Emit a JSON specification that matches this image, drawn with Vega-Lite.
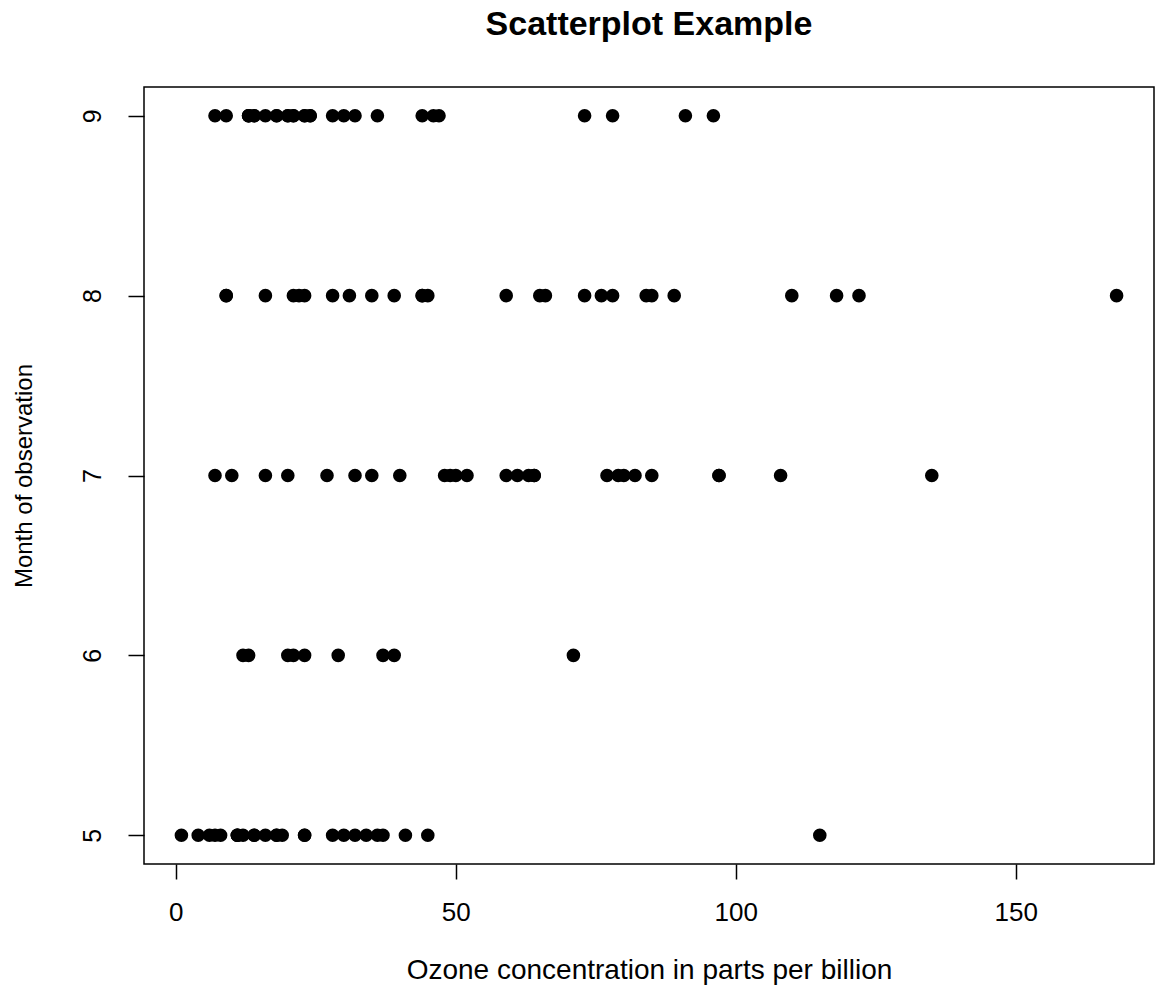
{
  "$schema": "https://vega.github.io/schema/vega-lite/v6.json",
  "autosize": {"type": "none"},
  "padding": {"left": 144, "top": 87, "right": 3, "bottom": 121},
  "width": 1010,
  "height": 777,
  "background": "white",
  "config": {
    "font": "Liberation Sans",
    "view": {"stroke": "#000000", "strokeWidth": 1.5}
  },
  "title": {
    "text": "Scatterplot Example",
    "font": "Liberation Sans",
    "fontSize": 34,
    "fontWeight": "bold",
    "color": "#000000",
    "anchor": "middle",
    "baseline": "alphabetic",
    "offset": 18
  },
  "data": {
    "values": [
      {"Ozone": 41, "Month": 5}, {"Ozone": 36, "Month": 5}, {"Ozone": 12, "Month": 5}, {"Ozone": 18, "Month": 5},
      {"Ozone": 28, "Month": 5}, {"Ozone": 23, "Month": 5}, {"Ozone": 19, "Month": 5}, {"Ozone": 8, "Month": 5},
      {"Ozone": 7, "Month": 5}, {"Ozone": 16, "Month": 5}, {"Ozone": 11, "Month": 5}, {"Ozone": 14, "Month": 5},
      {"Ozone": 18, "Month": 5}, {"Ozone": 14, "Month": 5}, {"Ozone": 34, "Month": 5}, {"Ozone": 6, "Month": 5},
      {"Ozone": 30, "Month": 5}, {"Ozone": 11, "Month": 5}, {"Ozone": 1, "Month": 5}, {"Ozone": 11, "Month": 5},
      {"Ozone": 4, "Month": 5}, {"Ozone": 32, "Month": 5}, {"Ozone": 23, "Month": 5}, {"Ozone": 45, "Month": 5},
      {"Ozone": 115, "Month": 5}, {"Ozone": 37, "Month": 5},
      {"Ozone": 29, "Month": 6}, {"Ozone": 71, "Month": 6}, {"Ozone": 39, "Month": 6}, {"Ozone": 23, "Month": 6},
      {"Ozone": 21, "Month": 6}, {"Ozone": 37, "Month": 6}, {"Ozone": 20, "Month": 6}, {"Ozone": 12, "Month": 6},
      {"Ozone": 13, "Month": 6},
      {"Ozone": 135, "Month": 7}, {"Ozone": 49, "Month": 7}, {"Ozone": 32, "Month": 7}, {"Ozone": 64, "Month": 7},
      {"Ozone": 40, "Month": 7}, {"Ozone": 77, "Month": 7}, {"Ozone": 97, "Month": 7}, {"Ozone": 97, "Month": 7},
      {"Ozone": 85, "Month": 7}, {"Ozone": 10, "Month": 7}, {"Ozone": 27, "Month": 7}, {"Ozone": 7, "Month": 7},
      {"Ozone": 48, "Month": 7}, {"Ozone": 35, "Month": 7}, {"Ozone": 61, "Month": 7}, {"Ozone": 79, "Month": 7},
      {"Ozone": 63, "Month": 7}, {"Ozone": 16, "Month": 7}, {"Ozone": 80, "Month": 7}, {"Ozone": 108, "Month": 7},
      {"Ozone": 20, "Month": 7}, {"Ozone": 52, "Month": 7}, {"Ozone": 82, "Month": 7}, {"Ozone": 50, "Month": 7},
      {"Ozone": 64, "Month": 7}, {"Ozone": 59, "Month": 7},
      {"Ozone": 39, "Month": 8}, {"Ozone": 9, "Month": 8}, {"Ozone": 16, "Month": 8}, {"Ozone": 78, "Month": 8},
      {"Ozone": 35, "Month": 8}, {"Ozone": 66, "Month": 8}, {"Ozone": 122, "Month": 8}, {"Ozone": 89, "Month": 8},
      {"Ozone": 110, "Month": 8}, {"Ozone": 44, "Month": 8}, {"Ozone": 28, "Month": 8}, {"Ozone": 65, "Month": 8},
      {"Ozone": 22, "Month": 8}, {"Ozone": 59, "Month": 8}, {"Ozone": 23, "Month": 8}, {"Ozone": 31, "Month": 8},
      {"Ozone": 44, "Month": 8}, {"Ozone": 21, "Month": 8}, {"Ozone": 9, "Month": 8}, {"Ozone": 45, "Month": 8},
      {"Ozone": 168, "Month": 8}, {"Ozone": 73, "Month": 8}, {"Ozone": 76, "Month": 8}, {"Ozone": 118, "Month": 8},
      {"Ozone": 84, "Month": 8}, {"Ozone": 85, "Month": 8},
      {"Ozone": 96, "Month": 9}, {"Ozone": 78, "Month": 9}, {"Ozone": 73, "Month": 9}, {"Ozone": 91, "Month": 9},
      {"Ozone": 47, "Month": 9}, {"Ozone": 32, "Month": 9}, {"Ozone": 20, "Month": 9}, {"Ozone": 23, "Month": 9},
      {"Ozone": 21, "Month": 9}, {"Ozone": 24, "Month": 9}, {"Ozone": 44, "Month": 9}, {"Ozone": 21, "Month": 9},
      {"Ozone": 28, "Month": 9}, {"Ozone": 9, "Month": 9}, {"Ozone": 13, "Month": 9}, {"Ozone": 46, "Month": 9},
      {"Ozone": 18, "Month": 9}, {"Ozone": 13, "Month": 9}, {"Ozone": 24, "Month": 9}, {"Ozone": 16, "Month": 9},
      {"Ozone": 13, "Month": 9}, {"Ozone": 23, "Month": 9}, {"Ozone": 36, "Month": 9}, {"Ozone": 7, "Month": 9},
      {"Ozone": 14, "Month": 9}, {"Ozone": 30, "Month": 9}, {"Ozone": 14, "Month": 9}, {"Ozone": 18, "Month": 9},
      {"Ozone": 20, "Month": 9}
    ]
  },
  "mark": {"type": "circle", "color": "#000000", "opacity": 1, "size": 185},
  "encoding": {
    "x": {
      "field": "Ozone",
      "type": "quantitative",
      "scale": {"domain": [-5.68, 174.68], "nice": false, "zero": false},
      "axis": {
        "title": "Ozone concentration in parts per billion",
        "values": [0, 50, 100, 150],
        "grid": false,
        "domain": false,
        "tickSize": 15,
        "tickWidth": 1.5,
        "tickColor": "#000000",
        "labelFontSize": 26,
        "labelColor": "#000000",
        "labelPadding": 20,
        "labelFont": "Liberation Sans",
        "titleFont": "Liberation Sans",
        "titleFontSize": 28,
        "titleFontWeight": "normal",
        "titleColor": "#000000",
        "titleBaseline": "alphabetic",
        "titleY": 114
      }
    },
    "y": {
      "field": "Month",
      "type": "quantitative",
      "scale": {"domain": [4.84, 9.16], "nice": false, "zero": false},
      "axis": {
        "title": "Month of observation",
        "values": [5, 6, 7, 8, 9],
        "grid": false,
        "domain": false,
        "tickSize": 16,
        "tickWidth": 1.5,
        "tickColor": "#000000",
        "labelAngle": 270,
        "labelAlign": "center",
        "labelBaseline": "alphabetic",
        "labelFontSize": 25,
        "labelColor": "#000000",
        "labelPadding": 28,
        "labelFont": "Liberation Sans",
        "titleFont": "Liberation Sans",
        "titleFontSize": 24,
        "titleFontWeight": "normal",
        "titleColor": "#000000",
        "titleAngle": 270,
        "titleBaseline": "alphabetic",
        "titleX": -113
      }
    }
  }
}
